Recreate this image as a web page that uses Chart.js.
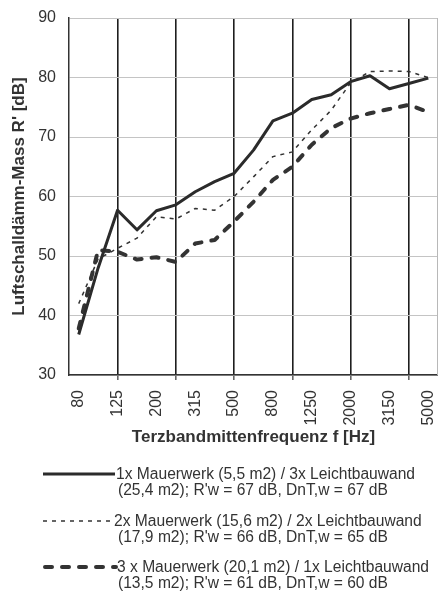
<!DOCTYPE html>
<html lang="de">
<head>
<meta charset="utf-8">
<title>Luftschalldämm-Mass</title>
<script src="https://cdn.jsdelivr.net/npm/chart.js@4.4.1/dist/chart.umd.min.js"></script>
<style>
  html, body { margin: 0; padding: 0; background: #fff; }
  #wrap { width: 440px; height: 591px; }
</style>
</head>
<body>
<div id="wrap"><canvas id="chartR" width="440" height="591"></canvas></div>
<script>
// Terzbänder 80 Hz ... 5000 Hz
const frequenzen = ['80', '100', '125', '160', '200', '250', '315', '400', '500', '630',
                    '800', '1000', '1250', '1600', '2000', '2500', '3150', '4000', '5000'];
// Oktavbänder -> dicke senkrechte Linien
const oktaven = ['125', '250', '500', '1000', '2000', '4000'];

// R' [dB] pro Terzband
const r1x = [36.8, 48.0, 57.7, 54.4, 57.6, 58.6, 60.8, 62.5, 63.9, 67.8, 72.7, 74.0, 76.3, 77.1, 79.3, 80.3, 78.1, 79.0, 79.9];
const r2x = [42.0, 49.5, 51.3, 53.0, 56.6, 56.2, 58.0, 57.7, 60.0, 63.3, 66.7, 67.5, 71.2, 74.5, 79.1, 81.0, 81.1, 81.0, 80.0];
const r3x = [37.8, 51.0, 50.7, 49.4, 49.8, 49.0, 52.1, 52.7, 55.8, 59.1, 62.8, 65.0, 68.7, 71.5, 73.1, 74.0, 74.7, 75.4, 74.2];

const yMin = 30;
const yMax = 90;
const yStep = 10;

// Legende: je Reihe zwei Textzeilen
const legende1 = ['1x Mauerwerk (5,5 m2) / 3x Leichtbauwand', "(25,4 m2); R'w = 67 dB, DnT,w = 67 dB"];
const legende2 = ['2x Mauerwerk (15,6 m2) / 2x Leichtbauwand', "(17,9 m2); R'w = 66 dB, DnT,w = 65 dB"];
const legende3 = ['3 x Mauerwerk (20,1 m2) / 1x Leichtbauwand', "(13,5 m2); R'w = 61 dB, DnT,w = 60 dB"];

const FONT = "'Liberation Sans', Arial, Helvetica, sans-serif";
const TEXT = '#333333';

const stil1 = { color: '#2b2b2b', width: 3, dash: [], cap: 'butt' };
const stil2 = { color: '#333333', width: 1.5, dash: [4, 5], cap: 'butt' };
const stil3 = { color: '#333333', width: 4, dash: [7, 10], cap: 'round' };

// rechter Rahmen der Zeichenfläche
const rahmen = {
  id: 'rahmen',
  beforeDatasetsDraw(chart) {
    const { ctx, chartArea: a } = chart;
    ctx.save();
    ctx.strokeStyle = '#b8b8b8';
    ctx.lineWidth = 1;
    ctx.beginPath();
    ctx.moveTo(a.right - 0.5, a.top);
    ctx.lineTo(a.right - 0.5, a.bottom);
    ctx.stroke();
    ctx.restore();
  }
};

// eigene Legende unter dem Diagramm
const legendePlugin = {
  id: 'legendeUnten',
  afterDraw(chart) {
    const ctx = chart.ctx;
    const reihen = [
      { text: legende1, stil: stil1, y: 474, x0: 43, x1: 115 },
      { text: legende2, stil: stil2, y: 521, x0: 43, x1: 113 },
      { text: legende3, stil: stil3, y: 567, x0: 45, x1: 116 }
    ];
    ctx.save();
    ctx.font = '15.6px ' + FONT;
    ctx.fillStyle = TEXT;
    ctx.textBaseline = 'middle';
    reihen.forEach(r => {
      ctx.strokeStyle = r.stil.color;
      ctx.lineWidth = r.stil.width;
      ctx.setLineDash(r.stil.dash);
      ctx.lineCap = r.stil.cap;
      ctx.beginPath();
      ctx.moveTo(r.x0, r.y);
      ctx.lineTo(r.x1, r.y);
      ctx.stroke();
      ctx.setLineDash([]);
      ctx.fillText(r.text[0], r.x1 + 1, r.y + 1);
      ctx.fillText(r.text[1], 118, r.y + 17);
    });
    ctx.restore();
  }
};

function serie(label, daten, stil) {
  return {
    label: label,
    data: daten,
    borderColor: stil.color,
    borderWidth: stil.width,
    borderDash: stil.dash,
    borderCapStyle: stil.cap,
    borderJoinStyle: 'round',
    pointRadius: 0,
    fill: false,
    tension: 0
  };
}

new Chart(document.getElementById('chartR'), {
  type: 'line',
  data: {
    labels: frequenzen,
    datasets: [
      serie(legende1.join(' '), r1x, stil1),
      serie(legende2.join(' '), r2x, stil2),
      serie(legende3.join(' '), r3x, stil3)
    ]
  },
  options: {
    responsive: false,
    animation: false,
    devicePixelRatio: 1,
    layout: { padding: { left: 0, right: 2, top: 18, bottom: 143 } },
    plugins: {
      legend: { display: false },
      tooltip: { enabled: false }
    },
    scales: {
      x: {
        type: 'category',
        offset: true,
        afterFit(s) {
          s.height = 73;
          s.paddingLeft = 0;
          s.paddingRight = 0;
        },
        grid: {
          offset: false,
          drawTicks: true,
          tickLength: 5,
          tickColor: '#666',
          color: c => oktaven.includes(frequenzen[c.index]) ? '#1e1e1e' : 'rgba(0,0,0,0)',
          lineWidth: c => oktaven.includes(frequenzen[c.index]) ? 1.6 : 0
        },
        border: { display: true, color: '#333', width: 1.5 },
        ticks: {
          autoSkip: false,
          minRotation: 90,
          maxRotation: 90,
          padding: 10,
          color: TEXT,
          font: { family: FONT, size: 16 },
          callback: (v, i) => (i % 2 === 0 ? frequenzen[i] : '')
        },
        title: {
          display: true,
          text: 'Terzbandmittenfrequenz f [Hz]',
          color: TEXT,
          font: { family: FONT, size: 17, weight: 'bold' },
          padding: { top: 0, bottom: 0 }
        }
      },
      y: {
        min: yMin,
        max: yMax,
        afterFit(s) {
          s.width = 69;
          s.paddingTop = 0;
          s.paddingBottom = 0;
        },
        grid: { color: '#c4c4c4', lineWidth: 1, drawTicks: false },
        border: { display: true, color: '#333', width: 1.5 },
        ticks: {
          stepSize: yStep,
          padding: 13,
          color: TEXT,
          font: { family: FONT, size: 16 }
        },
        title: {
          display: true,
          text: "Luftschalldämm-Mass R' [dB]",
          color: TEXT,
          font: { family: FONT, size: 17, weight: 'bold' },
          padding: { top: 9, bottom: 0 }
        }
      }
    }
  },
  plugins: [rahmen, legendePlugin]
});
</script>
</body>
</html>
